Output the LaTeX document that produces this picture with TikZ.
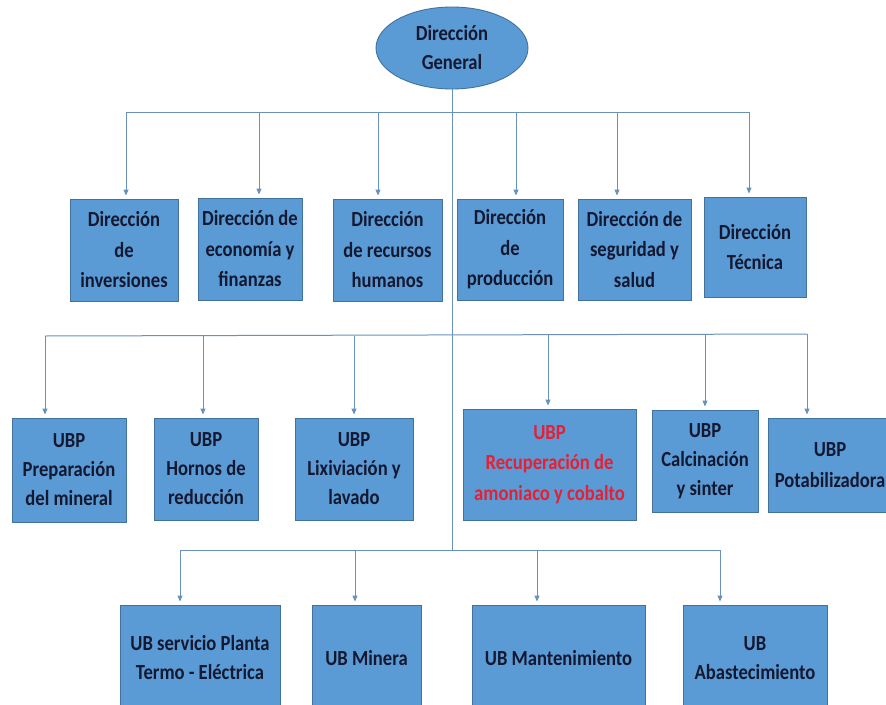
\documentclass[tikz,border=0pt]{standalone}
\usepackage{fontspec}
\setmainfont{Carlito}
\newfontfamily\boxfont{Carlito}[FakeStretch=0.865]
\usetikzlibrary{arrows.meta,shapes.geometric}
\definecolor{boxfill}{RGB}{91,155,213}
\definecolor{boxline}{RGB}{65,113,156}
\definecolor{conn}{RGB}{104,146,188}
\definecolor{txt}{RGB}{20,24,48}
\definecolor{redtxt}{RGB}{232,30,50}
\begin{document}
\begin{tikzpicture}[x=1pt,y=-1pt,
  unit/.style={draw=boxline, line width=0.9pt, fill=boxfill, inner sep=0pt,
    align=center, text=txt, font=\boxfont\fontsize{21.5}{30.5}\selectfont\bfseries},
  unitb/.style={unit, font=\boxfont\fontsize{21.5}{29}\selectfont\bfseries},
  conn/.style={draw=conn, line width=1pt},
  arr/.style={conn, -{Triangle[length=6pt,width=5pt]}, shorten >=3pt}]
\useasboundingbox (0,0) rectangle (886,704);
\fill[white] (0,0) rectangle (886,704);
\clip (0,0) rectangle (886,704);

% top
\node[unitb, ellipse, minimum width=152pt, minimum height=82pt] (dg) at (452,48) {Dirección\\General};

% row 1
\node[unit, minimum width=108pt, minimum height=102pt] (inv) at (124,250) {Dirección\\de\\inversiones};
\node[unit, minimum width=104pt, minimum height=102pt] (eco) at (250,249) {Dirección de\\economía y\\finanzas};
\node[unit, minimum width=109pt, minimum height=102pt] (rh) at (387.5,250) {Dirección\\de recursos\\humanos};
\node[unit, minimum width=106pt, minimum height=101pt] (prod) at (510,249.5) {Dirección\\de\\producción};
\node[unit, minimum width=113pt, minimum height=101pt] (seg) at (634.5,249.5) {Dirección de\\seguridad y\\salud};
\node[unit, minimum width=102pt, minimum height=100pt] (tec) at (755,247) {Dirección\\Técnica};

% row 2
\node[unitb, minimum width=114pt, minimum height=104pt] (prep) at (69,470) {UBP\\Preparación\\del mineral};
\node[unitb, minimum width=104pt, minimum height=102pt] (horn) at (206,469) {UBP\\Hornos de\\reducción};
\node[unitb, minimum width=118pt, minimum height=102pt] (lix) at (354,469) {UBP\\Lixiviación y\\lavado};
\node[unit, text=redtxt, minimum width=173pt, minimum height=111pt] (rec) at (549.5,464.5) {UBP\\Recuperación de\\amoniaco y cobalto};
\node[unitb, minimum width=106pt, minimum height=102pt] (calc) at (705,461) {UBP\\Calcinación\\y sinter};
\node[unit, minimum width=124pt, minimum height=94pt] (pot) at (830,465) {UBP\\Potabilizadora};

% row 3
\node[unitb, minimum width=160pt, minimum height=106pt] (plan) at (200,658) {UB servicio Planta\\Termo - Eléctrica};
\node[unitb, minimum width=109pt, minimum height=106pt] (mine) at (366.5,658) {UB Minera};
\node[unitb, minimum width=173pt, minimum height=106pt] (mant) at (558.5,658) {UB Mantenimiento};
\node[unitb, minimum width=144pt, minimum height=106pt] (abas) at (755,658) {UB\\Abastecimiento};

% bus coordinates
\coordinate (t3) at (452,550);
\coordinate (a11) at (126,112);
\coordinate (a12) at (259,112);
\coordinate (a13) at (378,112);
\coordinate (a14) at (516,112);
\coordinate (a15) at (617,112);
\coordinate (a16) at (749,112);
\coordinate (a21) at (45,336);
\coordinate (a22) at (203,336);
\coordinate (a23) at (354,335.5);
\coordinate (a24) at (548,335);
\coordinate (a25) at (705,334.5);
\coordinate (a26) at (807,334);
\coordinate (a31) at (180,550);
\coordinate (a32) at (355,550);
\coordinate (a33) at (537,550);
\coordinate (a34) at (720,550);

% trunk and buses
\draw[conn] (dg.south) -- (t3);
\draw[conn] (a11) -- (a16);
\draw[conn] (a21) -- (a26);
\draw[conn] (a31) -- (a34);

% arrows
\draw[arr] (a11) -- (a11 |- inv.north);
\draw[arr] (a12) -- (a12 |- eco.north);
\draw[arr] (a13) -- (a13 |- rh.north);
\draw[arr] (a14) -- (a14 |- prod.north);
\draw[arr] (a15) -- (a15 |- seg.north);
\draw[arr] (a16) -- (a16 |- tec.north);
\draw[arr] (a21) -- (a21 |- prep.north);
\draw[arr] (a22) -- (a22 |- horn.north);
\draw[arr] (a23) -- (a23 |- lix.north);
\draw[arr] (a24) -- (a24 |- rec.north);
\draw[arr] (a25) -- (a25 |- calc.north);
\draw[arr] (a26) -- (a26 |- pot.north);
\draw[arr] (a31) -- (a31 |- plan.north);
\draw[arr] (a32) -- (a32 |- mine.north);
\draw[arr] (a33) -- (a33 |- mant.north);
\draw[arr] (a34) -- (a34 |- abas.north);
\end{tikzpicture}
\end{document}
